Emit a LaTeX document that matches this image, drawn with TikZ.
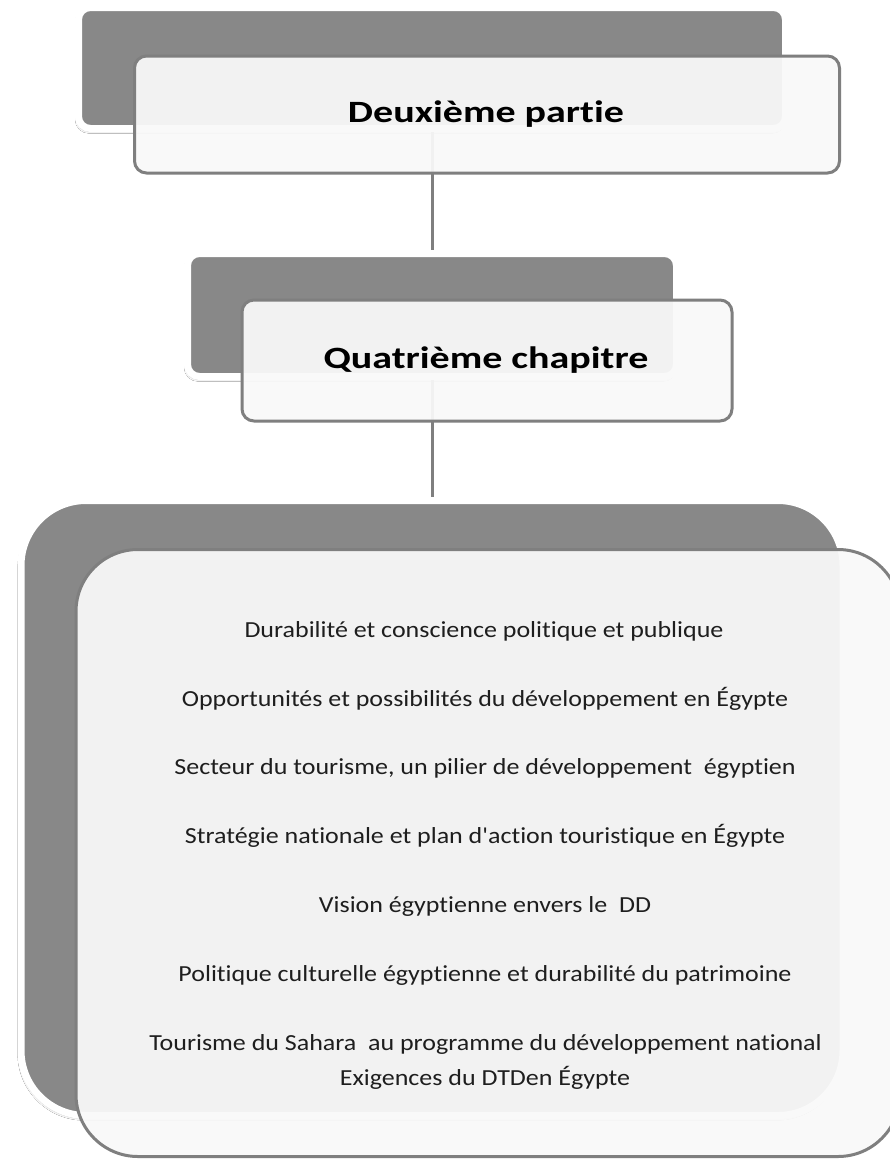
\documentclass[tikz,border=0pt]{standalone}
\usepackage{fontspec}
\setmainfont{Carlito}
\newfontfamily\bodyfont{Carlito}[FakeStretch=1.13, Ligatures={NoCommon,TeXOff}]
\newfontfamily\titlefont{Carlito}[FakeStretch=1.29, Ligatures={NoCommon,TeXOff}]
\usetikzlibrary{shadows.blur}

\definecolor{backgray}{HTML}{888888}
\definecolor{framegray}{HTML}{7F7F7F}
\definecolor{paper}{HTML}{F9F9F9}
\definecolor{ink}{HTML}{1E1E1E}

\tikzset{
  backbox/.style={rectangle, draw=white, line width=7pt, fill=backgray,
    blur shadow={shadow xshift=-1.5pt, shadow yshift=-3pt, shadow opacity=25, shadow blur steps=6}},
  frontbox/.style={rectangle, draw=framegray, line width=3pt, fill=paper, fill opacity=0.94},
  link/.style={draw=framegray, line width=3pt},
  headtext/.style={text=black, font=\titlefont\fontsize{31}{37}\selectfont\bfseries, anchor=base},
  itemtext/.style={text=ink, font=\bodyfont\fontsize{23}{27}\selectfont, anchor=base}
}

\begin{document}
\begin{tikzpicture}[x=1pt, y=-1pt]
\useasboundingbox (0,0) rectangle (890,1162);
\fill[white] (0,0) rectangle (890,1162);

% back cards
\node[backbox, rounded corners=12pt, minimum width=707pt, minimum height=121pt] (b1) at (432,68) {};
\node[backbox, rounded corners=12pt, minimum width=489pt, minimum height=123pt] (b2) at (432,315) {};
\node[backbox, rounded corners=65pt, minimum width=822pt, minimum height=615pt] (b3) at (432,808) {};

% connectors between the back cards
\draw[link] (b1.south) -- (b2.north);
\draw[link] (b2.south) -- (b3.north);

% front cards
\node[frontbox, rounded corners=12pt, minimum width=705pt, minimum height=117pt] (f1) at (487,114.5) {};
\node[frontbox, rounded corners=12pt, minimum width=490pt, minimum height=121pt] (f2) at (487,360.5) {};
\node[frontbox, rounded corners=62pt, minimum width=824pt, minimum height=607pt] (f3) at (488,853) {};

% titles
\node[headtext] (t1) at (486,122) {Deuxième partie};
\node[headtext] (t2) at (486,368) {Quatrième chapitre};

% chapter contents
\node[itemtext] (i1) at (484,637.2) {Durabilité et conscience politique et publique};
\node[itemtext] (i2) at (485,706) {Opportunités et possibilités du développement en Égypte};
\node[itemtext] (i3) at (485,774.8) {Secteur du tourisme, un pilier de développement\ \ égyptien};
\node[itemtext] (i4) at (485,843.6) {Stratégie nationale et plan d'action touristique en Égypte};
\node[itemtext] (i5) at (485,912.4) {Vision égyptienne envers le\ \ DD};
\node[itemtext] (i6) at (485,981.2) {Politique culturelle égyptienne et durabilité du patrimoine};
\node[itemtext] (i7) at (485.5,1050) {Tourisme du Sahara\ \ au programme du développement national};
\node[itemtext] (i8) at (485,1085) {Exigences du DTDen Égypte};
\end{tikzpicture}
\end{document}
